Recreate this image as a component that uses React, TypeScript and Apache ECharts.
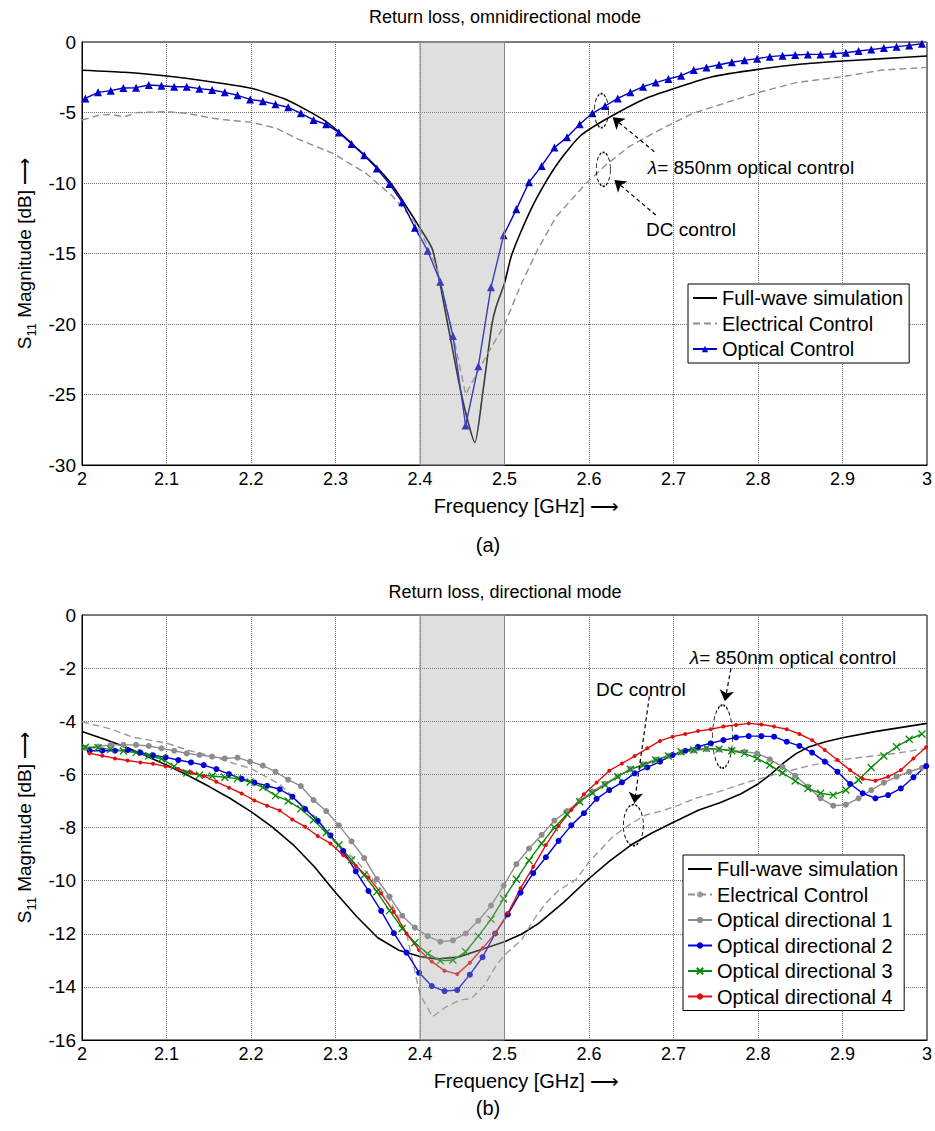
import React, { useEffect, useRef } from "react";
import * as echarts from "echarts";

const FONT = '"Liberation Sans", Arial, Helvetica, sans-serif';

// ---------- axes ----------
const X_RANGE = [2, 3];
const X_STEP = 0.1;
const TOP_Y_RANGE = [-30, 0];
const TOP_Y_STEP = 5;
const BOT_Y_RANGE = [-16, 0];
const BOT_Y_STEP = 2;
const BAND = [2.4, 2.5];

// ---------- sample frequencies of measured traces (GHz) ----------
const FREQ_A = [2.004, 2.019, 2.034, 2.049, 2.064, 2.079, 2.094, 2.109, 2.124, 2.139, 2.154, 2.169, 2.184, 2.199, 2.214, 2.229, 2.244, 2.259, 2.274, 2.289, 2.304, 2.319, 2.334, 2.349, 2.364, 2.379, 2.394, 2.409, 2.424, 2.439, 2.454, 2.469, 2.484, 2.499, 2.514, 2.529, 2.544, 2.559, 2.574, 2.589, 2.604, 2.619, 2.634, 2.649, 2.664, 2.679, 2.694, 2.709, 2.724, 2.739, 2.754, 2.769, 2.784, 2.799, 2.814, 2.829, 2.844, 2.859, 2.874, 2.889, 2.904, 2.919, 2.934, 2.949, 2.964, 2.979, 2.994];
const FREQ_B = [2.009, 2.024, 2.039, 2.054, 2.069, 2.084, 2.099, 2.114, 2.129, 2.144, 2.159, 2.174, 2.189, 2.204, 2.219, 2.234, 2.249, 2.264, 2.279, 2.294, 2.309, 2.324, 2.339, 2.354, 2.369, 2.384, 2.399, 2.414, 2.429, 2.444, 2.459, 2.474, 2.489, 2.504, 2.519, 2.534, 2.549, 2.564, 2.579, 2.594, 2.609, 2.624, 2.639, 2.654, 2.669, 2.684, 2.699, 2.714, 2.729, 2.744, 2.759, 2.774, 2.789, 2.804, 2.819, 2.834, 2.849, 2.864, 2.879, 2.894, 2.909, 2.924, 2.939, 2.954, 2.969, 2.984, 2.999];

// ---------- (a) omnidirectional ----------
const TOP_SIM_F = [2.0, 2.05, 2.1, 2.15, 2.2, 2.242, 2.289, 2.336, 2.364, 2.384, 2.4, 2.415, 2.433, 2.449, 2.465, 2.474, 2.485, 2.49, 2.5, 2.508, 2.522, 2.539, 2.563, 2.589, 2.62, 2.667, 2.707, 2.746, 2.8, 2.849, 2.9, 2.943, 3.0];
const TOP_SIM_V = [-2.0, -2.15, -2.41, -2.8, -3.28, -4.1, -5.65, -8.13, -9.9, -11.68, -13.2, -14.75, -20.07, -25.0, -28.4, -25.0, -20.07, -18.8, -17.1, -15.2, -13.1, -10.97, -8.6, -6.7, -5.48, -4.0, -3.17, -2.46, -1.94, -1.58, -1.35, -1.2, -0.99];
const TOP_ELEC_F = [2.0, 2.021, 2.034, 2.05, 2.065, 2.1, 2.124, 2.155, 2.179, 2.2, 2.23, 2.258, 2.297, 2.336, 2.368, 2.392, 2.4, 2.42, 2.44, 2.454, 2.47, 2.485, 2.5, 2.518, 2.539, 2.561, 2.597, 2.62, 2.648, 2.687, 2.723, 2.766, 2.797, 2.845, 2.9, 2.947, 3.0];
const TOP_ELEC_V = [-5.53, -5.18, -5.14, -5.3, -5.01, -4.94, -5.06, -5.41, -5.58, -5.68, -6.12, -6.95, -7.9, -9.31, -10.97, -12.62, -13.33, -16.0, -21.0, -25.0, -23.2, -21.6, -20.07, -17.4, -14.75, -12.4, -10.0, -8.72, -7.4, -6.12, -5.06, -4.23, -3.64, -2.88, -2.46, -1.99, -1.8];
const TOP_OPTICAL = [-4.0, -3.57, -3.45, -3.26, -3.24, -3.05, -3.1, -3.17, -3.17, -3.31, -3.4, -3.57, -3.78, -4.07, -4.2, -4.42, -4.63, -5.06, -5.53, -5.84, -6.41, -7.23, -8.04, -8.98, -10.07, -11.37, -13.17,
  -14.8, -17.0, -20.85, -27.2, -23.0, -17.4, -13.7,
  -11.87, -9.95, -8.79, -7.49, -6.76, -5.84, -5.06, -4.54, -4.0, -3.57, -3.17, -2.88, -2.62, -2.39, -1.99, -1.8, -1.61, -1.44, -1.3, -1.18, -1.04, -0.97, -0.92, -0.88, -0.88, -0.83, -0.76, -0.64, -0.54, -0.43, -0.33, -0.24, -0.12];

// ---------- (b) directional ----------
const BOT_SIM_F = [2.0, 2.025, 2.05, 2.075, 2.1, 2.125, 2.15, 2.175, 2.2, 2.225, 2.25, 2.275, 2.3, 2.325, 2.35, 2.375, 2.4, 2.42, 2.445, 2.47, 2.5, 2.52, 2.54, 2.57, 2.6, 2.625, 2.65, 2.675, 2.7, 2.73, 2.755, 2.78, 2.8, 2.815, 2.83, 2.845, 2.86, 2.88, 2.9, 2.94, 3.0];
const BOT_SIM_V = [-4.39, -4.66, -4.95, -5.29, -5.65, -6.03, -6.45, -6.9, -7.4, -7.98, -8.65, -9.48, -10.45, -11.35, -12.15, -12.62, -12.86, -12.95, -12.88, -12.62, -12.3, -12.02, -11.62, -10.82, -9.92, -9.25, -8.65, -8.2, -7.8, -7.34, -7.07, -6.73, -6.36, -6.0, -5.58, -5.22, -4.97, -4.77, -4.62, -4.38, -4.08];
const BOT_ELEC_F = [2.0, 2.035, 2.06, 2.1, 2.124, 2.15, 2.179, 2.2, 2.234, 2.258, 2.28, 2.297, 2.323, 2.34, 2.364, 2.384, 2.4, 2.415, 2.431, 2.447, 2.461, 2.476, 2.49, 2.5, 2.52, 2.537, 2.549, 2.563, 2.585, 2.6, 2.628, 2.647, 2.667, 2.687, 2.707, 2.726, 2.754, 2.786, 2.825, 2.864, 2.896, 2.927, 2.963, 3.0];
const BOT_ELEC_V = [-4.02, -4.3, -4.6, -4.82, -5.08, -5.28, -5.58, -5.78, -6.37, -7.09, -7.7, -8.5, -9.2, -9.8, -10.73, -11.98, -14.3, -15.12, -14.75, -14.5, -14.43, -13.95, -13.2, -12.8, -12.24, -11.36, -10.85, -10.4, -9.95, -9.3, -8.35, -7.91, -7.53, -7.37, -7.15, -6.9, -6.65, -6.31, -5.96, -5.65, -5.46, -5.34, -5.21, -5.02];
const DIR1 = [-5.0, -4.95, -4.89, -4.89, -4.89, -4.93, -5.02, -5.11, -5.21, -5.27,
  -5.33, -5.4, -5.37, -5.52, -5.67, -5.9, -6.2, -6.44, -6.97, -7.38,
  -7.92, -8.52, -9.15, -9.94, -10.6, -11.32, -11.77, -12.09, -12.3, -12.25,
  -11.99, -11.51, -10.94, -10.19, -9.38, -8.79, -8.28, -7.74, -7.38, -7.0,
  -6.65, -6.35, -6.07, -5.8, -5.62, -5.45, -5.3, -5.17, -5.1, -5.05,
  -5.06, -5.1, -5.15, -5.21, -5.43, -5.72, -6.05, -6.46, -6.9, -7.18,
  -7.14, -6.9, -6.59, -6.31, -6.09, -5.9, -5.75];
const DIR2 = [-5.11, -5.11, -5.11, -5.08, -5.18, -5.28, -5.36, -5.46, -5.55, -5.65,
  -5.8, -5.99, -6.17, -6.31, -6.43, -6.56, -6.84, -7.3, -7.75, -8.3,
  -8.88, -9.65, -10.39, -11.14, -11.98, -12.71, -13.47, -13.97, -14.16, -14.12,
  -13.54, -12.88, -11.99, -11.27, -10.45, -9.72, -9.12, -8.5, -7.92, -7.46,
  -6.92, -6.59, -6.3, -5.96, -5.74, -5.52, -5.27, -5.11, -4.96, -4.83,
  -4.71, -4.61, -4.56, -4.56, -4.58, -4.77, -4.93, -5.18, -5.52, -5.9,
  -6.36, -6.71, -6.9, -6.78, -6.53, -6.11, -5.69];
const DIR3 = [-4.98, -5.0, -5.06, -5.12, -5.18, -5.3, -5.41, -5.7, -5.95, -6.03,
  -6.06, -6.11, -6.16, -6.29, -6.49, -6.8, -7.0, -7.3, -7.72, -8.2,
  -8.66, -9.22, -9.79, -10.42, -11.13, -11.8, -12.34, -12.75, -13.02, -12.99,
  -12.68, -12.09, -11.46, -10.68, -9.95, -9.24, -8.6, -8.0, -7.5, -7.03,
  -6.7, -6.4, -6.09, -5.81, -5.65, -5.46, -5.31, -5.15, -5.08, -5.02,
  -5.05, -5.11, -5.21, -5.4, -5.65, -5.94, -6.25, -6.53, -6.71, -6.78,
  -6.59, -6.21, -5.74, -5.31, -4.96, -4.68, -4.48];
const DIR4 = [-5.21, -5.3, -5.4, -5.48, -5.55, -5.6, -5.7, -5.8, -5.92, -6.06,
  -6.28, -6.5, -6.72, -6.98, -7.18, -7.36, -7.7, -7.97, -8.32, -8.6,
  -9.04, -9.45, -9.88, -10.48, -11.17, -11.99, -12.61, -13.05, -13.39, -13.52,
  -13.09, -12.55, -11.99, -11.23, -10.29, -9.48, -8.66, -7.94, -7.34, -6.75,
  -6.31, -5.86, -5.59, -5.31, -5.02, -4.74, -4.58, -4.48, -4.37, -4.3,
  -4.2, -4.14, -4.08, -4.12, -4.2, -4.3, -4.48, -4.71, -5.08, -5.46,
  -5.84, -6.17, -6.24, -6.09, -5.84, -5.4, -4.98];

// ---------- annotations (data coordinates) ----------
const TOP_ELLIPSES = [[2.6147, -4.87], [2.617, -9.03]];
const TOP_ARROWS = [[[2.6773, -7.78], [2.628, -5.34]], [[2.679, -12.27], [2.63, -9.79]]];
const TOP_LABELS = [[2.669, -8.87], [2.667, -13.33]];
const BOT_ELLIPSES = [[2.758, -4.58, 20, 63], [2.6525, -7.91, 20, 41]];
const BOT_ARROWS = [[[2.768, -2.01], [2.7608, -3.25]], [[2.6714, -3.07], [2.6537, -7.09]]];
const BOT_LABELS = [[2.7187, -1.59], [2.6076, -2.82]];

const NAMES_TOP = ["Full-wave simulation", "Electrical Control", "Optical Control"];
const NAMES_BOT = ["Full-wave simulation", "Electrical Control", "Optical directional 1", "Optical directional 2", "Optical directional 3", "Optical directional 4"];

const zip = (f: number[], v: number[]) => f.map((x, i) => [x, v[i]]);

const X_SYMBOL = "path://M0,0L10,10M10,0L0,10";

function App() {
  const ref = useRef<HTMLDivElement>(null);
  useEffect(() => {
    if (!ref.current) return;
    const chart = echarts.init(ref.current, undefined, { renderer: "svg" });

    const xAxis = (gi: number) => ({
      type: "value",
      gridIndex: gi,
      min: X_RANGE[0],
      max: X_RANGE[1],
      interval: X_STEP,
      name: "Frequency [GHz] \u27F6",
      nameLocation: "middle",
      nameGap: 31,
      nameTextStyle: { fontSize: 20, fontFamily: FONT, color: "#000", padding: [0, 0, 0, 44] },
      axisLine: { show: true, onZero: false, lineStyle: { color: "#000", width: 1 } },
      axisTick: { show: false },
      axisLabel: {
        fontSize: 18, fontFamily: FONT, color: "#000", margin: 5,
        formatter: (v: number) => String(Math.round(v * 10) / 10),
      },
      splitLine: { show: true, lineStyle: { color: "#6f6f6f", type: "dotted", width: 1 } },
    });
    const yAxis = (gi: number, r: number[], step: number) => ({
      type: "value",
      gridIndex: gi,
      min: r[0],
      max: r[1],
      interval: step,
      name: "{s|S}{sub|11}{s| Magnitude [dB] \u27F6}",
      nameLocation: "middle",
      nameRotate: 90,
      nameGap: 44,
      nameTextStyle: {
        fontSize: 19, fontFamily: FONT, color: "#000",
        rich: {
          s: { fontSize: 19, fontFamily: FONT, color: "#000", lineHeight: 26, verticalAlign: "middle" },
          sub: { fontSize: 13, fontFamily: FONT, color: "#000", lineHeight: 26, verticalAlign: "bottom" },
        },
      },
      axisLine: { show: true, onZero: false, lineStyle: { color: "#000", width: 1 } },
      axisTick: { show: false },
      axisLabel: { fontSize: 19, fontFamily: FONT, color: "#000", margin: 6 },
      splitLine: { show: true, lineStyle: { color: "#6f6f6f", type: "dotted", width: 1 } },
    });

    const common = { animation: false, silent: true, z: 2, emphasis: { disabled: true } };
    const plain = (name: string, data: number[][], gi: number, color: string, dashed: boolean, width: number, smooth: any) => ({
      ...common,
      type: "line",
      name,
      xAxisIndex: gi,
      yAxisIndex: gi,
      data,
      symbol: "none",
      smooth,
      lineStyle: { color, width, type: dashed ? [7, 4] : "solid" },
      itemStyle: { color },
    });
    const marked = (name: string, data: number[][], gi: number, color: string, symbol: string, size: number, extra: any = {}) => ({
      ...common,
      type: "line",
      name,
      xAxisIndex: gi,
      yAxisIndex: gi,
      data,
      symbol,
      symbolSize: size,
      showAllSymbol: true,
      lineStyle: { color, width: 1.4 },
      itemStyle: { color, ...extra },
    });

    const bandSeries = (gi: number) => ({
      type: "line",
      name: "band" + gi,
      xAxisIndex: gi,
      yAxisIndex: gi,
      data: [],
      silent: true,
      animation: false,
      z: 8,
      markArea: {
        silent: true,
        z: 8,
        itemStyle: { color: "rgba(165,165,165,0.36)", borderColor: "#8a8a8a", borderWidth: 1 },
        label: { show: false },
        data: [[{ xAxis: BAND[0] }, { xAxis: BAND[1] }]],
      },
    });

    const ellipseItem = (c: number[], w: number, h: number) => ({
      coord: [c[0], c[1]],
      symbol: "circle",
      symbolSize: [w, h],
      itemStyle: { color: "rgba(0,0,0,0)", borderColor: "#000", borderWidth: 1.2, borderType: [3, 2] },
      label: { show: false },
    });
    const textItem = (c: number[], text: string) => ({
      coord: [c[0], c[1]],
      symbol: "circle",
      symbolSize: 1,
      itemStyle: { color: "rgba(0,0,0,0)" },
      label: {
        show: true, position: "right", distance: 0, formatter: text,
        fontSize: 19, fontFamily: FONT, color: "#000",
        rich: { it: { fontStyle: "italic", fontSize: 19, fontFamily: FONT, color: "#000" } },
      },
    });
    const annotSeries = (gi: number, ellipses: any[], arrows: number[][][], labels: number[][]) => ({
      type: "line",
      name: "annot" + gi,
      xAxisIndex: gi,
      yAxisIndex: gi,
      data: [],
      silent: true,
      animation: false,
      z: 9,
      markPoint: {
        silent: true,
        z: 9,
        data: [
          ...ellipses,
          textItem(labels[0], "{it|\u03BB}= 850nm optical control"),
          textItem(labels[1], "DC control"),
        ],
      },
      markLine: {
        silent: true,
        z: 9,
        symbol: ["none", "arrow"],
        symbolSize: 11,
        label: { show: false },
        lineStyle: { color: "#000", width: 1.2, type: [4, 3] },
        data: arrows.map((a) => [{ coord: a[0] }, { coord: a[1] }]),
      },
    });

    const noMark = { itemStyle: { opacity: 0 } };
    const legend = (items: any[], left: number, top: number) => ({
      data: items,
      orient: "vertical",
      left,
      top,
      itemWidth: 24,
      itemHeight: 8,
      itemGap: 5.5,
      padding: [4, 6, 4, 4],
      borderColor: "#000",
      borderWidth: 1,
      backgroundColor: "#fff",
      selectedMode: false,
      textStyle: { fontSize: 20, fontFamily: FONT, color: "#000" },
    });

    const option: any = {
      animation: false,
      backgroundColor: "#fff",
      grid: [
        { left: 82, top: 42, width: 846, height: 423, show: true, borderColor: "#000", borderWidth: 1, backgroundColor: "transparent" },
        { left: 82, top: 615, width: 846, height: 425, show: true, borderColor: "#000", borderWidth: 1, backgroundColor: "transparent" },
      ],
      xAxis: [xAxis(0), xAxis(1)],
      yAxis: [yAxis(0, TOP_Y_RANGE, TOP_Y_STEP), yAxis(1, BOT_Y_RANGE, BOT_Y_STEP)],
      legend: [
        legend([{ name: NAMES_TOP[0], ...noMark }, { name: NAMES_TOP[1], ...noMark }, { name: NAMES_TOP[2] }], 688, 284),
        legend([{ name: NAMES_BOT[0], ...noMark }, { name: NAMES_BOT[1], itemStyle: { opacity: 0.8 } }, ...NAMES_BOT.slice(2).map((n) => ({ name: n }))], 683, 855),
      ],
      graphic: [
        { type: "text", x: 505, y: 17, style: { text: "Return loss, omnidirectional mode", fontSize: 18, fontFamily: FONT, fill: "#000", align: "center", verticalAlign: "middle" } },
        { type: "text", x: 488, y: 545, style: { text: "(a)", fontSize: 20, fontFamily: FONT, fill: "#000", align: "center", verticalAlign: "middle" } },
        { type: "text", x: 505, y: 592, style: { text: "Return loss, directional mode", fontSize: 18, fontFamily: FONT, fill: "#000", align: "center", verticalAlign: "middle" } },
        { type: "text", x: 488, y: 1108, style: { text: "(b)", fontSize: 20, fontFamily: FONT, fill: "#000", align: "center", verticalAlign: "middle" } },
      ],
      series: [
        plain(NAMES_TOP[0], zip(TOP_SIM_F, TOP_SIM_V), 0, "#000", false, 1.6, 0.2),
        plain(NAMES_TOP[1], zip(TOP_ELEC_F, TOP_ELEC_V), 0, "#8f8f8f", true, 1.4, false),
        marked(NAMES_TOP[2], zip(FREQ_A, TOP_OPTICAL), 0, "#0000c8", "triangle", 8),
        bandSeries(0),
        annotSeries(0, TOP_ELLIPSES.map((c) => ellipseItem(c, 14, 34)), TOP_ARROWS, TOP_LABELS),

        plain(NAMES_BOT[0], zip(BOT_SIM_F, BOT_SIM_V), 1, "#000", false, 1.6, false),
        plain(NAMES_BOT[1], zip(BOT_ELEC_F, BOT_ELEC_V), 1, "#9a9a9a", true, 1.4, false),
        marked(NAMES_BOT[2], zip(FREQ_A, DIR1), 1, "#8c8c8c", "circle", 6),
        marked(NAMES_BOT[3], zip(FREQ_B, DIR2), 1, "#0000dc", "circle", 6),
        marked(NAMES_BOT[4], zip(FREQ_A, DIR3), 1, "#0a8a0a", X_SYMBOL, 7, { borderColor: "#0a8a0a", borderWidth: 1.3 }),
        marked(NAMES_BOT[5], zip(FREQ_B, DIR4), 1, "#e01010", "circle", 4),
        bandSeries(1),
        annotSeries(1, BOT_ELLIPSES.map((e) => ellipseItem([e[0], e[1]], e[2], e[3])), BOT_ARROWS, BOT_LABELS),
      ],
    };
    chart.setOption(option);
    return () => chart.dispose();
  }, []);
  return <div ref={ref} style={{ position: "absolute", left: 0, top: 0, width: 935, height: 1131 }} />;
}

export default App;
